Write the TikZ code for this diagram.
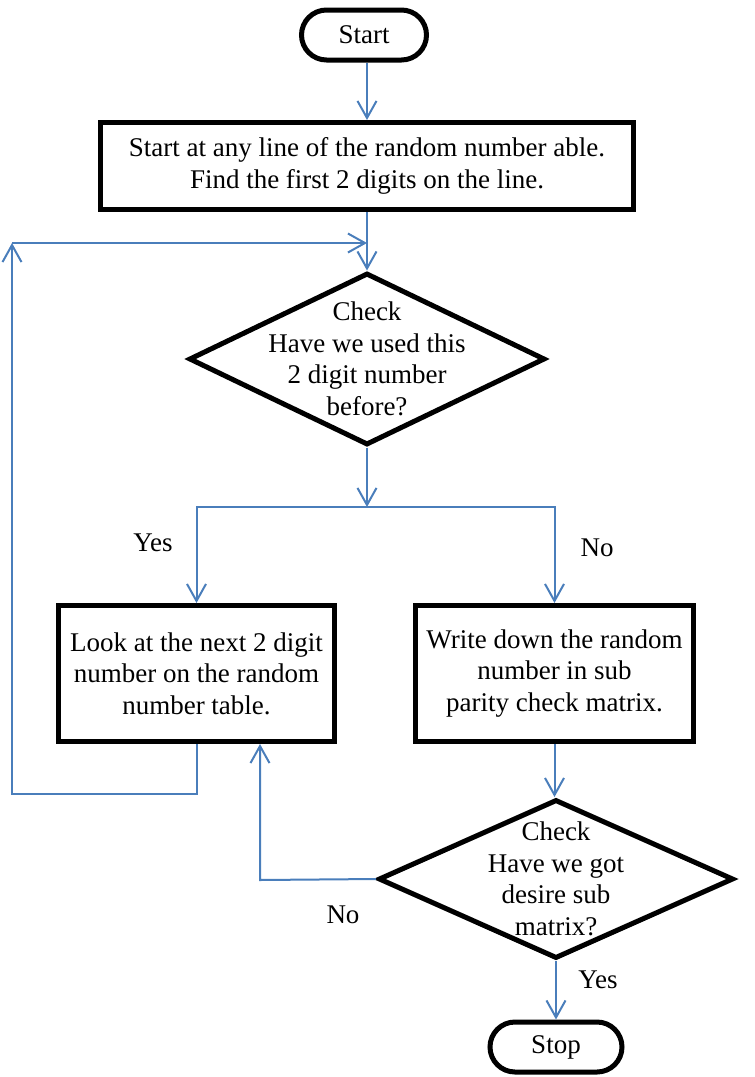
\documentclass[tikz,border=0pt]{standalone}
\usepackage{fontspec}
\setmainfont{Liberation Serif}
\usetikzlibrary{shapes.geometric, arrows.meta}
\definecolor{flowblue}{HTML}{4A7EBB}
\tikzset{
	terminal/.style={draw, line width=2.5pt, rounded corners=12.5pt, minimum width=62.5pt, minimum height=25pt, inner sep=0pt},
	process/.style={draw, line width=2.5pt, align=center, inner sep=0pt},
	decision/.style={draw, diamond, line width=2.5pt, inner sep=0pt},
	flow/.style={draw=flowblue, line width=1pt, -{Straight Barb[length=8.5pt, width=9.5pt]}},
}

\begin{document}
\begin{tikzpicture}[x=0.5pt, y=-0.5pt, font=\fontsize{13.5}{15.8}\selectfont]
		\useasboundingbox (0,0) rectangle (755,1077);
		% start
		\node[terminal] (start) at (364,35) {Start};
		% first line
		\node[process, minimum width=266.5pt, minimum height=43.5pt] (first) at (367,166) {Start at any line of the random number able.\\ Find the first 2 digits on the line.};
		% first check
		\node[decision, minimum width=178pt, minimum height=86pt] (used) at (367,359) {};
		\node[align=center] (usedtext) at (used) {Check\\ Have we used this\\ 2 digit number\\ before?};
		% next number
		\node[process, minimum width=138pt, minimum height=68pt] (next) at (196.5,673.5) {Look at the next 2 digit\\ number on the random\\ number table.};
		% write down
		\node[process, minimum width=139pt, minimum height=68pt] (write) at (554.5,673.5) {Write down the random\\ number in sub\\ parity check matrix.};
		% second check
		\node[decision, minimum width=177.5pt, minimum height=79.5pt] (got) at (556,879) {};
		\node[align=center] (gottext) at (got) {Check\\ Have we got\\ desire sub\\ matrix?};
		% stop
		\node[terminal, minimum width=66pt] (stop) at (556,1047) {Stop};

		\coordinate (loopL) at (12,243);
		\coordinate (loopB) at (12,794);
		\coordinate (split) at (367,507);
		\coordinate (back) at (260,880);

		\draw[flow] (first.north |- start.south) -- (first.north);
		\draw[flow] (first.south) -- (used.north);

		\draw[flow] (next.south) |- (loopB) -- (loopL);
		\draw[flow] (loopL) -- (loopL -| used.north);

		\draw[flow] (used.south) -- (split);
		\draw[flow] (split) -| (next.north);
		\draw[flow] (split) -| (write.north);

		\draw[flow] (write.south) -- (write.south |- got.north);
		\draw[flow] (got.west) -- (back) -- (back |- next.south);
		\draw[flow] (got.south) -- (stop.north);

		% labels
		\node (yes1) at (153,543) {Yes};
		\node (no1) at (597,548) {No};
		\node (no2) at (343,915) {No};
		\node (yes2) at (598,980) {Yes};
	\end{tikzpicture}
\end{document}
